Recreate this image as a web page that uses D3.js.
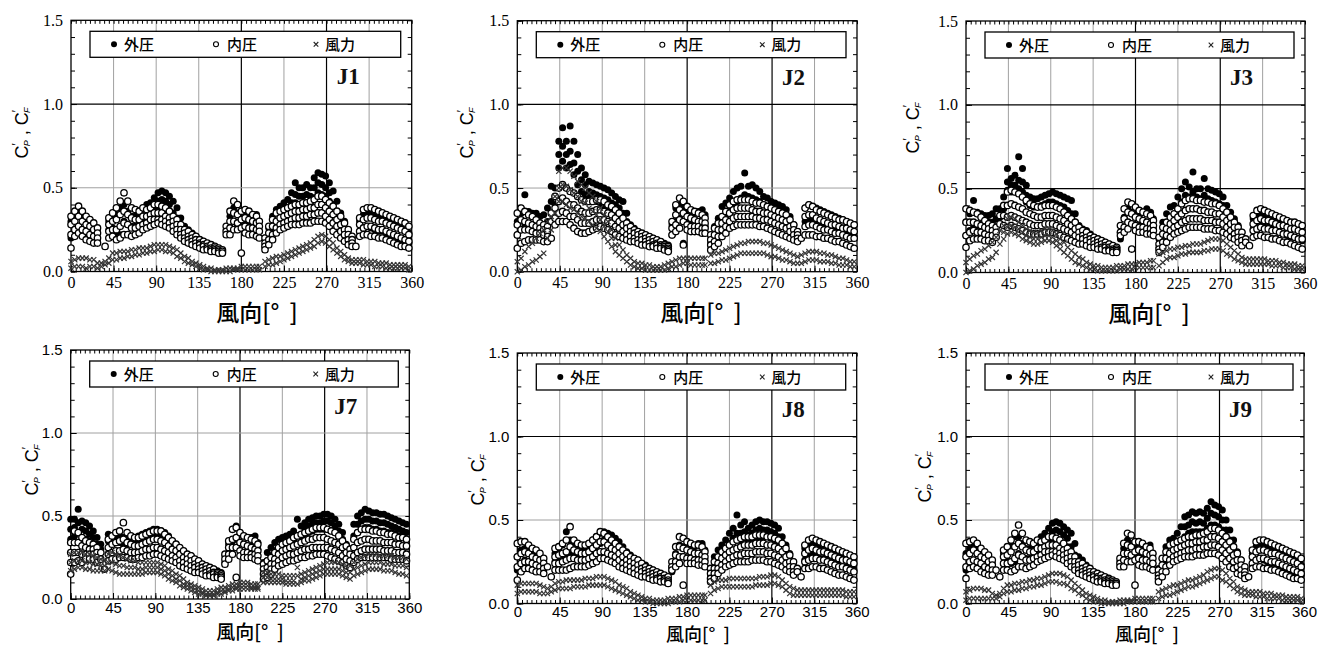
<!DOCTYPE html>
<html><head><meta charset="utf-8">
<script src="https://cdn.jsdelivr.net/npm/d3@7"></script>
<style>body{margin:0;background:#fff}svg{display:block}</style>
</head><body>
<svg id="c" width="1321" height="648"></svg>
<script>
// wind direction [deg] of each data column
const ANGLES = [0,4,8,12,16,20,24,28,32,36,
40,44,48,52,56,60,64,68,72,76,
80,84,88,92,96,100,104,108,112,116,
120,124,128,132,136,140,144,148,152,156,
160,164,168,172,176,180,184,188,192,196,
199,205,209,213,217,221,225,229,233,237,
241,245,249,253,257,261,265,269,273,277,
281,285,289,293,297,301,305,309,313,317,
321,325,329,333,337,341,345,349,353,357];
const X_TICKS = [0,45,90,135,180,225,270,315,360];
const Y_TICKS = [0,0.5,1.0,1.5];
const SERIES = ["外圧","内圧","風力"];
const PANEL_NAMES = ["J1","J2","J3","J7","J8","J9"];
// Values below are C' x 100, one row of points per angle in ANGLES
const J1_outer = [[30,20],[32,24],[36,26],[34,25],[31,22],[28,20],[27,19],[24,18],[],[],
[30,25],[33,26],[34,22],[38,22],[40,30],[36,28],[33,27],[33,27],[35,28],[37,30],
[40,32],[41,34],[44,38],[47,42,37],[48,43,38],[47,42,37],[45,40,35],[42,35],[38,32],[32,27],
[27,24],[25,22],[23,20],[21,18],[19,17],[18,16],[16,15],[15,14],[14,13],[13,12],
[12],[25],[33,26],[38,30],[35,28],[34,28],[34,28],[32,27],[33,27],[34,26],
[30,24],[20,15],[26,20],[33,24],[37,28],[39,30],[41,32],[43,35],[47,41],[53,46,41],
[50,45,40],[50,45,40],[52,46,41],[50,45,40],[56,50,44],[59,53,47],[58,52,46],[57,50,45],[53,47,42],[48,40],
[42,35],[35,30],[30,25],[25,21],[20,17],[],[30,24],[34,26],[35,27],[34,26],
[33,25],[32,24],[31,24],[30,23],[29,22],[28,21],[27,20],[26,19],[25,18],[23,17]];
const J1_inner = [[33,28,22,14],[36,30,25,21],[39,33,27,23],[36,30,25,21],[33,28,24,19],[31,27,22,18],[29,25,21,17],[26,23,20,17],[],[15],
[32,28,24,20],[35,30,25,21],[38,31,25,19],[42,34,27,20],[47,36,29,22],[42,34,28,22],[38,32,26,21],[37,31,26,22],[36,31,27,23],[38,33,28,25],
[37,33,29,26],[38,34,31,27],[40,35,31,28],[40,35,31,29],[39,35,31,28],[38,33,30,27],[36,32,29,26],[33,30,27,24],[31,28,25,22],[28,25,22,20],
[25,23,20,18],[24,21,19,17],[22,20,18,16],[21,19,17,15],[19,17,16,14],[18,16,15,13],[17,15,14,13],[16,14,13,12],[15,14,13,12],[14,13,12,11],
[13,12,11],[27,24,22],[36,30,26,22],[42,35,30,25],[40,34,29,25],[36,31,26,11],[37,32,27,23],[36,31,26,22],[34,30,26,22],[33,29,25,21],
[30,27,24,20],[20,17,15,13],[27,23,19,16],[31,27,22,19],[35,30,26,23],[36,32,28,25],[37,33,29,26],[38,34,30,27],[39,35,31,28],[40,36,32,28],
[40,36,32,28],[41,37,33,29],[41,37,33,29],[42,38,34,29],[43,38,34,30],[45,40,35,30],[45,40,35,30],[43,38,33,29],[41,36,31,27],[39,34,29,24],
[36,31,27,22],[33,28,24,20],[29,25,22,18],[25,22,19,16],[21,19,17,15],[15],[32,28,24,21],[37,31,26,22],[38,32,27,22],[38,32,27,21],
[37,31,26,21],[36,30,25,20],[35,30,25,20],[34,29,24,19],[33,28,23,18],[32,27,22,17],[31,26,21,16],[30,25,20,15],[29,24,19,15],[27,22,18,14]];
const J1_force = [[6,2],[7,3],[8,3],[8,3],[8,2],[7,3],[7,3],[5,2],[5,3],[6,4],
[8,5],[11,7],[11,7],[12,8],[12,8],[12,9],[13,9],[13,10],[14,10],[14,11],
[14,11],[15,12],[16,12],[16,13],[16,13],[16,12],[15,12],[14,11],[13,9],[11,8],
[9,6],[8,5],[6,4],[5,3],[4,2],[3,1],[2,1],[2,0],[1,0],[1,0],
[1,0],[2,0],[2,0],[2,1],[2,1],[3,1],[3,1],[3,1],[3,1],[3,1],
[3,1],[6,3],[7,4],[8,4],[9,5],[9,6],[10,7],[11,8],[12,9],[13,10],
[14,11],[15,12],[16,13],[17,14],[19,15],[21,17],[22,18],[21,17],[19,15],[17,13],
[14,11],[12,9],[10,7],[8,6],[7,5],[7,5],[7,5],[7,4],[6,4],[6,4],
[6,3],[5,3],[5,3],[5,2],[4,2],[4,2],[4,2],[4,2],[4,2],[3,1]];

const J2_outer = [[30,22],[35,25],[46,28],[36,28],[35,28],[35,27],[33,26],[34,26],[38,30],[51,42],
[50,45,40],[78,70,62],[86,75,66],[78,70,62],[87,72,64],[78,65,58],[70,60,52],[62,55,48],[58,52,46],[54,48,44],
[53,47,43],[52,46,42],[51,45,41],[50,44,40],[49,43,39],[47,41,37],[45,40,36],[43,38,34],[42,35],[35,30],
[28,24],[26,22],[24,21],[22,20],[22,19],[21,18],[20,18],[19,17],[18,16],[17,15],
[16,14],[28,22],[38,30],[40,32],[38,30,17],[36,29],[36,28],[35,28],[36,28],[37,28],
[34,27],[22,17],[27,21],[32,25],[39,30],[41,33],[44,36],[48,40],[50,42],[51,44],
[59,46],[51,45],[52,44],[50,43],[48,42],[45,40],[44,39],[42,37],[41,36],[40,35],
[39,34],[37,32],[33,29],[28,25],[24,21],[],[38,30],[40,32],[39,31],[38,30],
[37,29],[36,28],[35,28],[34,27],[33,26],[32,25],[31,24],[30,23],[29,22],[28,21]];
const J2_inner = [[35,28,22,14],[38,31,25,17],[36,30,25,18],[34,29,25,19],[33,28,24,19],[31,27,23,19],[29,26,23,19],[28,25,22,18],[27,24,21,18],[35,30,20],
[45,38,32,28],[50,42,35,30],[52,44,36,30],[50,42,35,30],[48,40,33,28],[47,40,33,26],[45,38,31,24],[43,36,29,23],[42,35,29,23],[42,35,29,24],
[42,36,30,25],[43,37,31,26],[43,37,31,27],[42,36,31,26],[40,35,30,25],[39,34,29,24],[37,32,27,22],[35,30,26,21],[32,28,24,20],[29,26,22,19],
[27,24,21,18],[25,23,20,18],[24,22,19,17],[23,21,19,16],[22,20,18,16],[21,19,17,15],[20,18,16,15],[19,17,16,14],[18,16,15,14],[16,15,14,13],
[15,14,13,12],[30,26,22],[40,34,28,24],[44,37,31,26],[42,35,30,16],[39,33,28,25],[37,32,27,24],[36,31,27,24],[35,30,27,24],[34,30,26,23],
[32,29,26,23],[22,19,16,13],[26,22,18,15],[29,25,21,17],[33,29,25,21],[36,31,27,23],[40,35,30,26],[42,37,32,27],[43,38,33,28],[43,38,33,28],
[43,38,33,28],[43,38,33,28],[42,37,33,28],[41,36,32,28],[41,36,32,27],[40,35,31,27],[39,35,31,26],[38,34,30,25],[37,33,29,24],[36,32,28,23],
[35,31,27,22],[34,30,26,21],[31,27,24,20],[28,25,22,19],[24,22,20,18],[20],[38,33,27,22],[40,34,28,22],[39,34,28,22],[37,32,27,21],
[36,31,26,21],[35,30,25,20],[34,29,25,20],[33,28,24,19],[32,28,23,18],[31,27,23,18],[31,26,22,17],[30,26,21,16],[29,25,20,15],[28,24,20,14]];
const J2_force = [[6,0],[8,1],[12,3],[15,4],[17,6],[20,7],[23,9],[25,11],[30,20],[33,25],
[45,35],[60,50,42],[62,52,42],[62,51,40],[60,49,38],[57,47,37],[54,45,35],[52,42,33],[50,41,32],[47,38,30],
[45,36,28],[42,34,26],[38,31,24],[34,27,21],[30,24,18],[25,20,15],[20,16,12],[16,10],[13,8],[10,6],
[8,4],[6,3],[5,2],[5,2],[4,1],[4,1],[3,1],[3,1],[3,1],[4,1],
[5,2],[6,3],[7,3],[8,4],[8,5],[8,5],[8,4],[8,4],[8,4],[8,4],
[8,4],[10,5],[11,5],[11,6],[12,7],[13,7],[14,8],[15,9],[16,10],[17,11],
[17,11],[18,11],[18,11],[18,11],[18,11],[17,11],[17,10],[16,9],[15,9],[14,8],
[13,7],[12,7],[11,6],[10,5],[9,5],[10,5],[11,6],[12,7],[12,7],[12,7],
[11,6],[11,6],[10,6],[10,5],[9,5],[8,4],[8,4],[7,4],[6,3],[6,3]];

const J3_outer = [[30,22],[35,25],[43,28],[36,28],[35,29],[34,29],[34,30],[35,30],[38,32],[38,33],
[45,38],[62,54,49],[56,52,48],[58,52,48],[69,55,50],[62,54,48],[52,46,42],[45,40],[44,39],[44,39],
[45,40],[46,41],[47,42],[48,42],[47,41],[46,40],[45,39],[44,37],[43,35],[35,30],
[28,25],[26,23],[25,22],[23,20],[21,19],[20,18],[19,17],[18,16],[17,15],[16,14],
[15,13],[24,20],[33,27],[38,30],[36,29],[35,28],[34,28],[36,28],[38,29],[36,28],
[32,26],[20,15],[30,22],[35,28],[39,32],[40,34],[45,38],[50,42],[54,46],[51,45],
[60,48,44],[50,45],[50,44],[56,46],[50,44],[49,43],[48,42],[47,41],[45,40],[40,36],
[36,32],[32,28],[28,25],[24,21],[],[],[32,26],[35,28],[35,28],[34,27],
[33,27],[32,26],[31,25],[30,24],[29,23],[28,22],[27,21],[27,21],[26,20],[25,19]];
const J3_inner = [[38,30,22,15],[37,30,24,19],[36,30,25,20],[35,29,24,20],[33,28,24,20],[31,27,23,19],[29,26,22,19],[28,25,22,18],[27,24,21],[34,29],
[40,34,28],[48,40,33,27],[49,41,34,28],[48,40,33,27],[47,39,32,26],[45,38,31,25],[43,36,30,24],[41,35,29,23],[40,34,28,23],[39,33,28,23],
[39,33,28,23],[40,34,29,24],[40,34,29,24],[40,34,29,24],[39,33,28,23],[38,32,27,22],[36,31,26,21],[34,29,25,20],[32,28,24,19],[30,26,22,18],
[27,24,21,17],[25,22,20,17],[24,21,19,16],[22,20,18,15],[21,19,17,15],[20,18,16,14],[19,17,15,14],[18,16,15,13],[17,15,14,13],[16,14,13,12],
[15,14,13,12],[28,24,22],[38,32,27,24],[42,36,30,26],[41,35,29,14],[39,33,28,25],[37,32,27,24],[36,31,27,24],[35,30,26,23],[34,29,26,23],
[31,28,25,22],[21,17,14,12],[27,23,18,15],[30,26,22,18],[33,29,25,21],[35,31,27,23],[38,33,28,24],[41,35,30,25],[43,37,31,26],[44,38,32,27],
[44,38,32,27],[43,38,32,27],[43,37,32,27],[42,37,31,26],[42,36,31,26],[41,36,31,26],[41,35,30,25],[40,35,30,25],[38,33,29,24],[36,31,27,23],
[33,29,25,21],[30,27,23,20],[27,24,21,18],[24,21,19,16],[20,18],[16],[34,29,25,21],[37,31,26,22],[38,32,27,22],[37,31,26,21],
[36,31,26,21],[35,30,25,20],[34,29,25,20],[33,28,24,19],[32,28,23,18],[31,27,23,18],[30,26,22,17],[30,26,21,16],[29,25,20,15],[28,24,20,14]];
const J3_force = [[6,0],[8,1],[10,2],[11,4],[13,5],[14,6],[16,8],[18,9],[21,12],[25,17],
[28,24,20],[32,27,23],[33,28,24],[32,27,23],[30,26,22],[28,24,20],[26,22,19],[25,21,18],[24,20,17],[24,20,17],
[25,21,18],[26,22,19],[26,22,19],[25,21,18],[23,19,16],[20,17,14],[18,12],[15,10],[13,8],[11,6],
[9,5],[8,4],[6,3],[5,2],[4,2],[4,1],[3,1],[3,1],[3,1],[3,1],
[4,1],[4,2],[4,2],[5,2],[5,2],[5,3],[6,3],[6,3],[6,3],[7,3],
[7,3],[11,4],[12,6],[13,8],[14,9],[14,9],[15,10],[15,11],[16,11],[16,12],
[17,12],[17,12],[17,12],[18,13],[19,13],[20,14],[20,14],[20,14],[19,13],[17,11],
[15,10],[13,8],[11,7],[9,6],[8,5],[8,5],[8,5],[8,5],[8,5],[8,5],
[7,5],[7,4],[7,4],[6,4],[6,3],[5,3],[5,3],[5,2],[4,2],[4,2]];

const J7_outer = [[48,42,36],[48,43,38],[54,46,40],[47,42,37],[46,41,36],[44,39,35],[41,37,33],[37,33],[33,30],[],
[39,35],[38,34],[38,34],[38,34],[37,33],[37,33],[37,33],[37,33],[38,34],[39,35],
[40,36],[41,37],[42,38],[42,38],[41,37],[40,35],[38,33],[35,31],[33,29],[30,27],
[28,25],[27,24],[26,23],[24,21],[23,20],[21,19],[20,18],[19,17],[18,16],[17,15],
[16,14],[26,22],[33,28],[42,35],[44,36],[40,34],[38,33],[37,32],[37,32],[38,32],
[34,30],[22,18],[28,23],[31,26],[34,29],[36,31],[37,32],[38,33],[39,34],[41,35],
[48,38],[44,38],[46,42,38],[48,44,40],[49,45,41],[50,46,42],[50,46,42],[51,47,42],[51,47,42],[50,46,41],
[48,44,40],[45,41,38],[40,36],[33,30],[30,27],[45,38],[50,45,40],[52,47,42],[54,48,43],[53,48,43],
[52,47,42],[52,47,42],[51,46,41],[51,46,41],[50,45,40],[49,44,40],[48,43,39],[47,42,38],[46,41,37],[45,40,36]];
const J7_inner = [[34,28,22,15],[41,34,28,22],[40,34,28,23],[37,32,27,22],[35,31,27,24],[34,30,27,24],[33,30,27,24],[31,28,25,22],[28,24],[18],
[36,31,27,23],[38,33,28,24],[40,34,29,24],[41,35,29,25],[46,36,30,25],[40,34,29,25],[38,33,28,24],[37,32,28,24],[37,32,28,25],[38,33,29,25],
[39,34,30,26],[40,35,30,26],[41,36,31,27],[41,36,31,27],[41,35,30,26],[39,34,29,25],[37,32,28,24],[35,30,26,23],[33,29,25,22],[31,27,23,20],
[29,25,22,19],[27,24,21,18],[26,23,20,17],[24,21,19,16],[23,20,18,16],[21,19,17,15],[20,18,16,14],[19,17,15,14],[18,16,15,13],[16,15,14,13],
[15,14,13,12],[27,24,21],[35,31,27,24],[42,36,31,27],[43,37,31,13],[40,34,29,26],[38,33,28,25],[37,32,28,25],[36,31,27,25],[35,30,27,24],
[33,29,26,23],[21,18,15,12],[23,19,16,13],[25,21,18,15],[28,24,21,18],[31,27,23,20],[33,29,25,21],[34,30,26,22],[35,31,27,23],[37,32,27,23],
[38,33,28,24],[39,34,29,25],[40,35,30,25],[41,36,30,26],[42,36,31,26],[43,37,31,27],[43,37,31,27],[43,37,31,27],[42,36,31,26],[41,35,30,25],
[40,34,29,24],[38,33,28,23],[35,31,26,22],[32,28,24,20],[30,27,23,19],[36,31,26,22],[40,34,28,24],[42,35,29,25],[42,36,30,25],[42,36,30,25],
[41,35,30,25],[41,35,30,25],[40,35,30,25],[40,34,29,25],[39,34,29,25],[39,34,29,24],[38,33,28,24],[37,33,28,24],[37,32,28,24],[36,32,27,23]];
const J7_force = [[27,22,17],[28,23,18],[28,23,19],[28,23,19],[27,22,18],[27,22,18],[26,21,17],[25,21,17],[24,20,17],[23,20,17],
[27,22,18],[28,22,17],[27,21,16],[26,20,15],[25,20,15],[24,19,15],[23,19,15],[23,19,15],[22,18,15],[22,18,15],
[22,19,16],[22,19,16],[22,19,16],[22,19,16],[21,18,15],[20,17,14],[18,15,12],[17,14,11],[15,12,10],[14,11,8],
[12,9,7],[10,8,6],[9,7,5],[8,6,4],[7,5,3],[6,4,3],[5,3,2],[5,3,2],[5,3,2],[6,4,3],
[7,5,3],[7,5,4],[8,6,5],[9,7,5],[9,7,6],[10,8,6],[10,8,6],[10,8,6],[9,7,6],[9,7,6],
[9,7,6],[16,13,10],[16,13,10],[15,12,10],[15,12,10],[15,12,10],[14,12,10],[14,11,9],[14,11,9],[14,11,9],
[19,14,9],[15,12,10],[16,13,11],[17,14,11],[18,15,12],[19,16,13],[20,17,14],[21,18,15],[22,18,15],[22,18,15],
[22,18,15],[22,18,15],[21,17,14],[20,16,13],[20,16,12],[22,18,14],[24,19,15],[25,20,16],[26,21,17],[27,22,18],
[27,22,18],[27,22,18],[26,22,18],[26,21,17],[26,21,17],[26,21,17],[25,20,16],[25,20,15],[25,20,15],[24,19,14]];

const J8_outer = [[28,20],[32,24],[33,26],[32,25],[31,24],[29,23],[27,22],[25,21],[],[],
[30,25],[33,26],[35,27],[43,30],[38,30],[35,28],[33,27],[32,27],[33,28],[35,29],
[38,32],[40,34],[42,36],[43,38],[42,38],[41,37],[39,35],[37,33],[34,30],[31,27],
[29,25],[27,24],[26,23],[24,21],[23,20],[21,19],[20,18],[18,17],[17,16],[16,15],
[15,14],[22,19],[30,25],[35,28],[34,28],[33,27],[33,27],[34,27],[36,28],[36,28],
[32,26],[20,16],[28,22],[32,25],[35,28],[38,31],[42,36],[45,39],[53,42,38],[47,42,38],
[49,43,39],[45,41,38],[47,42,38],[49,44,40],[50,45,40],[49,44,40],[49,44,40],[48,43,39],[47,42,38],[45,40,37],
[40,36],[35,31],[30,27],[25,22],[],[],[33,26],[36,28],[37,29],[36,28],
[35,27],[34,27],[33,26],[32,25],[31,24],[30,23],[29,22],[28,22],[27,21],[26,20]];
const J8_inner = [[36,28,22,14],[37,30,24,19],[37,31,25,21],[35,30,25,21],[33,28,24,20],[32,27,23,19],[30,26,22,19],[27,24,21,18],[22],[16],
[33,28,24,20],[34,29,24,20],[36,30,25,20],[38,31,26,20],[46,34,27,21],[38,32,27,22],[36,31,26,22],[35,30,26,22],[35,30,26,22],[36,31,27,23],
[38,33,28,24],[40,35,30,25],[43,37,31,27],[42,37,31,27],[40,35,30,26],[38,33,29,25],[36,32,28,24],[34,30,26,22],[32,28,24,21],[30,26,23,20],
[28,25,22,19],[27,24,21,18],[26,23,20,17],[24,21,19,16],[22,20,18,16],[21,19,17,15],[20,18,16,14],[19,17,15,14],[18,16,15,13],[17,15,14,13],
[16,14,13,12],[25,22,20],[34,29,25,22],[40,34,28,24],[39,33,28,11],[37,32,27,24],[36,31,27,24],[35,30,26,24],[35,30,26,23],[34,29,26,23],
[31,28,25,22],[21,18,15,13],[25,21,18,15],[28,24,21,18],[31,27,23,20],[33,29,25,22],[35,31,27,23],[37,32,28,24],[38,33,29,25],[39,34,29,25],
[40,35,30,25],[40,35,30,25],[40,35,30,26],[41,36,31,26],[41,36,31,26],[41,36,31,26],[40,35,30,25],[40,35,30,25],[39,34,29,24],[38,33,28,23],
[36,31,26,22],[33,28,24,20],[29,25,22,19],[25,22,19,17],[21,19],[16],[35,30,25,21],[38,32,26,21],[39,33,27,22],[38,32,27,22],
[37,31,26,21],[36,31,26,21],[35,30,25,20],[34,29,24,19],[33,28,23,18],[32,27,22,17],[31,26,22,17],[30,26,21,16],[29,25,20,15],[28,24,19,14]];
const J8_force = [[11,6],[12,7],[12,7],[12,7],[12,7],[12,7],[11,6],[10,6],[9,6],[10,7],
[12,8],[13,9],[13,9],[14,9],[14,9],[14,10],[14,10],[14,10],[15,10],[15,11],
[15,11],[16,11],[16,11],[16,11],[15,10],[14,9],[13,8],[11,7],[10,6],[9,5],
[7,4],[6,3],[5,2],[4,2],[3,1],[3,1],[2,0],[2,0],[2,0],[2,0],
[3,0],[3,1],[3,1],[4,1],[4,2],[5,2],[5,2],[5,2],[5,2],[5,2],
[5,2],[11,6],[13,8],[14,9],[14,10],[14,10],[15,10],[15,10],[15,10],[15,10],
[15,10],[15,10],[15,10],[15,11],[16,11],[16,11],[16,11],[17,12],[17,12],[16,11],
[14,10],[12,8],[10,6],[9,5],[8,5],[8,5],[8,5],[8,5],[8,5],[8,5],
[8,5],[8,5],[8,5],[8,5],[8,5],[8,5],[8,5],[7,4],[7,4],[7,4]];

const J9_outer = [[30,20],[33,24],[36,26],[34,25],[31,23],[28,21],[27,20],[24,18],[],[],
[30,24],[33,26],[35,24],[40,25],[40,30],[36,28],[33,27],[33,27],[35,28],[37,30],
[40,32],[42,34],[45,40,36],[48,43,38],[49,44,39],[48,43,38],[46,41,36],[44,39,34],[42,34],[36,29],
[28,24],[26,22],[23,20],[21,18],[19,17],[18,16],[16,15],[15,14],[14,13],[13,12],
[12],[25],[33,26],[38,30],[36,28],[34,27],[34,28],[33,27],[34,27],[35,26],
[30,24],[21,15],[27,20],[34,25],[38,29],[39,31],[42,33],[46,36],[52,46,40],[53,47,42],
[55,49,43],[54,48,43],[55,49,43],[54,48,43],[57,51,45],[61,54,47],[59,53,47],[58,52,46],[56,50,44],[50,44,40],
[44,38],[38,32],[31,26],[26,22],[20,17],[],[30,24],[34,26],[35,27],[34,26],
[33,25],[32,24],[31,24],[30,23],[29,22],[28,21],[27,20],[26,19],[25,18],[23,17]];
const J9_inner = [[36,28,22,15],[37,30,25,21],[38,32,26,22],[36,30,25,21],[33,28,24,19],[31,27,22,18],[29,25,21,17],[26,23,20,17],[20],[16],
[32,28,24,20],[34,29,24,20],[38,31,25,19],[42,34,27,20],[47,36,29,22],[42,34,28,22],[38,32,26,21],[37,31,26,22],[36,31,27,23],[38,33,28,25],
[37,33,29,26],[38,34,31,27],[40,35,31,28],[40,35,31,29],[39,35,31,28],[38,33,30,27],[36,32,29,26],[33,30,27,24],[31,28,25,22],[28,25,22,20],
[25,23,20,18],[24,21,19,17],[22,20,18,16],[21,19,17,15],[19,17,16,14],[18,16,15,13],[17,15,14,13],[16,14,13,12],[15,14,13,12],[14,13,12,11],
[13,12,11],[27,24,22],[36,30,26,22],[42,35,30,25],[41,34,29,25],[37,31,26,11],[37,32,27,23],[36,31,26,22],[34,30,26,22],[33,29,25,21],
[30,27,24,20],[20,17,15,13],[27,23,19,16],[31,27,22,19],[35,30,26,23],[36,32,28,25],[37,33,29,26],[38,34,30,27],[39,35,31,28],[40,36,32,28],
[40,36,32,28],[41,37,33,29],[41,37,33,29],[42,38,34,29],[43,38,34,30],[45,40,35,30],[45,40,35,30],[44,39,34,29],[42,37,32,27],[40,35,30,25],
[37,32,27,22],[34,29,25,21],[30,26,22,18],[26,23,20,17],[22,19,17,15],[16],[32,28,24,21],[37,31,26,22],[38,32,27,22],[38,32,27,21],
[37,31,26,21],[36,30,25,20],[35,30,25,20],[34,29,24,19],[33,28,23,18],[32,27,22,17],[31,26,21,16],[30,25,20,15],[29,24,19,15],[27,22,18,14]];
const J9_force = [[7,2],[8,3],[9,3],[9,3],[9,3],[8,3],[8,3],[6,3],[5,3],[6,4],
[9,6],[11,7],[11,7],[12,8],[12,8],[13,9],[13,9],[14,10],[14,10],[15,11],
[15,11],[16,12],[17,13],[18,13],[18,13],[18,12],[17,12],[16,11],[14,9],[12,8],
[10,6],[8,5],[6,3],[5,2],[4,1],[3,1],[2,0],[2,0],[1,0],[1,0],
[1,0],[2,0],[2,0],[2,1],[2,1],[3,1],[3,1],[3,1],[3,1],[3,1],
[3,1],[7,3],[8,4],[9,5],[10,5],[11,6],[11,7],[12,8],[13,9],[14,10],
[14,10],[15,11],[16,12],[17,13],[19,14],[20,15],[21,16],[21,16],[20,14],[18,13],
[15,11],[13,9],[10,7],[9,6],[8,5],[7,5],[7,5],[7,4],[7,4],[6,4],
[6,3],[6,3],[5,3],[5,3],[5,2],[4,2],[4,2],[4,2],[4,2],[3,1]];

const DATA = {
  J1:[J1_outer,J1_inner,J1_force], J2:[J2_outer,J2_inner,J2_force], J3:[J3_outer,J3_inner,J3_force],
  J7:[J7_outer,J7_inner,J7_force], J8:[J8_outer,J8_inner,J8_force], J9:[J9_outer,J9_inner,J9_force]
};

const SERIF = "'Liberation Serif','Times New Roman',serif";
const SANS = "'Liberation Sans',Arial,sans-serif";
const CJK = "'Noto Sans CJK JP','Noto Sans CJK SC',sans-serif";
const LAYOUT = {
  J1:{l:71,  r:411.7, t:20.3, b:271.5, font:SERIF, fs:16, pad:5, yl:[22,133],  xl:[257,311,23], hBlack:[1.0]},
  J2:{l:517.3, r:857, t:20.7, b:271.7, font:SERIF, fs:16, pad:5, yl:[467,133], xl:[701,311,23], hBlack:[1.0]},
  J3:{l:966, r:1305,  t:21,   b:272.5, font:SERIF, fs:16, pad:5, yl:[913,128], xl:[1149,312,23], hBlack:[0.5,1.0]},
  J7:{l:70.7, r:409.3, t:350, b:599,   font:SANS, fs:15, pad:3, yl:[32,470],   xl:[250,630,19], hBlack:[]},
  J8:{l:517.3, r:856.7, t:353, b:603.5, font:SANS, fs:15, pad:3, yl:[478,480], xl:[698,633,18], hBlack:[1.0]},
  J9:{l:966, r:1304,  t:353,  b:603.5, font:SANS, fs:15, pad:3, yl:[925,477], xl:[1147,633,18], hBlack:[1.0]}
};

const svg = d3.select("#c");
svg.append("rect").attr("width",1321).attr("height",648).attr("fill","#fff");

PANEL_NAMES.forEach(name => {
  const L = LAYOUT[name];
  const [outer, inner, force] = DATA[name];
  const x = d3.scaleLinear().domain([0,360]).range([L.l, L.r]);
  const y = d3.scaleLinear().domain([0,1.5]).range([L.b, L.t]);
  const g = svg.append("g");

  // grid
  g.selectAll(".gv").data(X_TICKS.slice(1,-1)).join("line")
    .attr("x1",d=>x(d)).attr("x2",d=>x(d)).attr("y1",L.t).attr("y2",L.b)
    .attr("stroke",d=>(d===180||d===270)?"#000":"#a0a0a0")
    .attr("stroke-width",d=>(d===180||d===270)?1.2:1);
  g.selectAll(".gh").data([0.5,1.0]).join("line")
    .attr("x1",L.l).attr("x2",L.r).attr("y1",d=>y(d)).attr("y2",d=>y(d))
    .attr("stroke",d=>L.hBlack.includes(d)?"#000":"#a0a0a0")
    .attr("stroke-width",d=>L.hBlack.includes(d)?1.2:1);

  // axes (inward ticks)
  const minorX = d3.range(0,361,5), minorY = d3.range(0,1.501,0.1);
  const styleAxis = sel => { sel.select(".domain").remove(); sel.selectAll("line").attr("stroke","#000"); };
  g.append("g").attr("transform",`translate(0,${L.b})`)
    .call(d3.axisBottom(x).tickValues(minorX).tickSize(-3.5).tickFormat("")).call(styleAxis);
  g.append("g").attr("transform",`translate(0,${L.t})`)
    .call(d3.axisTop(x).tickValues(minorX).tickSize(-3.5).tickFormat("")).call(styleAxis);
  g.append("g").attr("transform",`translate(${L.l},0)`)
    .call(d3.axisLeft(y).tickValues(minorY).tickSize(-4).tickFormat("")).call(styleAxis);
  g.append("g").attr("transform",`translate(${L.r},0)`)
    .call(d3.axisRight(y).tickValues(minorY).tickSize(-4).tickFormat("")).call(styleAxis);

  const ax = g.append("g").attr("transform",`translate(0,${L.b})`)
    .call(d3.axisBottom(x).tickValues(X_TICKS).tickSize(-6).tickPadding(L.pad).tickFormat(d3.format("d"))).call(styleAxis);
  const ay = g.append("g").attr("transform",`translate(${L.l},0)`)
    .call(d3.axisLeft(y).tickValues(Y_TICKS).tickSize(-6).tickPadding(8).tickFormat(d3.format(".1f"))).call(styleAxis);
  [ax, ay].forEach(a => a.attr("font-family",L.font).attr("font-size",L.fs)
      .selectAll("text").attr("fill","#000"));

  // frame
  g.append("rect").attr("x",L.l).attr("y",L.t).attr("width",L.r-L.l).attr("height",L.b-L.t)
    .attr("fill","none").attr("stroke","#000").attr("stroke-width",1.3);

  const pts = rows => rows.flatMap((row,i) => row.map(v => [ANGLES[i], v/100]));

  // 外圧 filled dots
  g.append("g").selectAll("circle").data(pts(outer)).join("circle")
    .attr("cx",d=>x(d[0])).attr("cy",d=>y(d[1])).attr("r",3.5).attr("fill","#000");
  // 内圧 open circles
  g.append("g").selectAll("circle").data(pts(inner)).join("circle")
    .attr("cx",d=>x(d[0])).attr("cy",d=>y(d[1])).attr("r",3.2)
    .attr("fill","#fff").attr("stroke","#000").attr("stroke-width",1.3);
  // 風力 crosses
  const cross = "M-2.6,-2.6L2.6,2.6M-2.6,2.6L2.6,-2.6";
  g.append("g").selectAll("path").data(pts(force)).join("path")
    .attr("d",cross).attr("transform",d=>`translate(${x(d[0])},${y(d[1])})`)
    .attr("stroke","#333").attr("stroke-width",1.2).attr("fill","none");

  // legend
  const lx = L.l+19, ly = L.t+11, lw = (L.r-11)-lx, lh = 26, cy = ly+lh/2;
  const lg = g.append("g");
  lg.append("rect").attr("x",lx).attr("y",ly).attr("width",lw).attr("height",lh)
    .attr("fill","#fff").attr("stroke","#000").attr("stroke-width",1.3);
  const offs = [[24,34],[126,137],[226,235]];
  lg.append("circle").attr("cx",lx+offs[0][0]).attr("cy",cy).attr("r",3).attr("fill","#000");
  lg.append("circle").attr("cx",lx+offs[1][0]).attr("cy",cy).attr("r",2.5).attr("fill","#fff").attr("stroke","#000").attr("stroke-width",1.1);
  lg.append("path").attr("d","M-2.3,-2.3L2.3,2.3M-2.3,2.3L2.3,-2.3").attr("transform",`translate(${lx+offs[2][0]},${cy})`)
    .attr("stroke","#222").attr("stroke-width",1.1);
  SERIES.forEach((s,i) => lg.append("text").attr("x",lx+offs[i][1]).attr("y",cy+5.5)
    .attr("font-family",CJK).attr("font-size",15).attr("font-weight",500).attr("fill","#000").text(s));

  // panel name
  g.append("text").attr("x",L.r-52).attr("y",L.t+64).attr("text-anchor","end")
    .attr("font-family",SERIF).attr("font-size",23).attr("font-weight","bold").attr("fill","#111").text(name);

  // y label C'P , C'F
  const yt = g.append("text").attr("transform",`translate(${L.yl[0]},${L.yl[1]}) rotate(-90)`)
    .attr("text-anchor","middle").attr("dominant-baseline","central")
    .attr("font-family",SANS).attr("font-size",18).attr("fill","#000");
  yt.append("tspan").text("C");
  yt.append("tspan").attr("dy",-5).attr("font-size",12).text("′");
  yt.append("tspan").attr("dx",-3).attr("dy",10).attr("font-size",9).attr("font-style","italic").text("P");
  yt.append("tspan").attr("dy",-5).text(" , C");
  yt.append("tspan").attr("dy",-5).attr("font-size",12).text("′");
  yt.append("tspan").attr("dx",-3).attr("dy",10).attr("font-size",9).attr("font-style","italic").text("F");

  // x label
  g.append("text").attr("x",L.xl[0]).attr("y",L.xl[1]).attr("text-anchor","middle")
    .attr("dominant-baseline","central").attr("font-family",CJK).attr("font-size",L.xl[2])
    .attr("font-weight",500).attr("fill","#000").attr("xml:space","preserve").text("風向[°  ]");
});
</script>
</body></html>
